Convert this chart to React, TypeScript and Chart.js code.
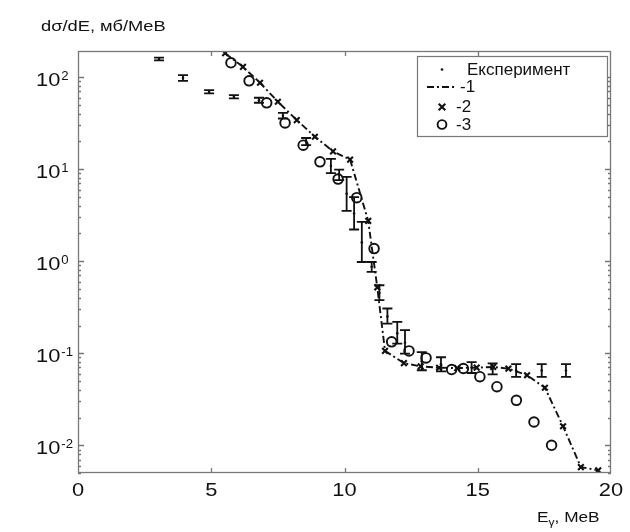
import React, { useEffect, useRef } from "react";
import { Chart, registerables } from "chart.js";

Chart.register(...registerables);

// ---- Data ----
// Experiment: energy (MeV), value, lower and upper error limits (mb/MeV)
const expE = [3.04, 3.94, 4.92, 5.85, 6.79, 7.69, 8.56, 9.49, 9.8, 10.08, 10.36, 10.65, 11.02, 11.31, 11.61, 11.98, 12.27, 12.9, 13.62, 14.77, 15.56, 16.44, 17.4, 18.31];
const expVal = [157, 98, 69, 61, 56, 38, 20, 10.8, 8.8, 5.4, 3.3, 1.6, 0.87, 0.45, 0.25, 0.165, 0.13, 0.082, 0.076, 0.07, 0.068, 0.065, 0.065, 0.065];
const expLo = [152, 91, 66.5, 58.7, 52.6, 35.5, 18.2, 9.06, 7.6, 3.52, 2.21, 0.98, 0.766, 0.377, 0.21, 0.127, 0.099, 0.0653, 0.0635, 0.061, 0.0589, 0.0555, 0.0555, 0.0555];
const expHi = [163, 105, 72.3, 63.8, 59.6, 40.9, 21.8, 12.9, 9.9, 8.24, 4.96, 2.67, 0.98, 0.548, 0.306, 0.219, 0.178, 0.103, 0.0905, 0.08, 0.0776, 0.0762, 0.0762, 0.0762];

// Calculation 1 (dash-dot line)
const line1E = [5.52, 6.19, 6.83, 7.5, 8.21, 8.89, 9.57, 10.21, 10.89, 11.23, 11.52, 12.23, 12.86, 13.55, 14.23, 14.96, 15.58, 16.15, 16.85, 17.52, 18.2, 18.87, 19.52];
const line1Val = [182, 129, 86.7, 54, 34.1, 22.5, 15.6, 12.7, 2.74, 0.52, 0.106, 0.078, 0.072, 0.0695, 0.069, 0.0697, 0.071, 0.068, 0.0577, 0.0422, 0.0161, 0.0058, 0.00535];

// Calculation 2 (crosses)
const calc2E = [5.52, 6.19, 6.83, 7.5, 8.21, 8.89, 9.57, 10.21, 10.89, 11.23, 11.52, 12.23, 12.86, 13.55, 14.23, 14.96, 15.58, 16.15, 16.85, 17.52, 18.2, 18.87, 19.52];
const calc2Val = [182, 129, 86.7, 54, 34.1, 22.5, 15.6, 12.7, 2.74, 0.52, 0.106, 0.078, 0.072, 0.0695, 0.069, 0.0697, 0.071, 0.068, 0.0577, 0.0422, 0.0161, 0.0058, 0.00535];

// Calculation 3 (open circles)
const calc3E = [5.74, 6.42, 7.08, 7.77, 8.45, 9.08, 9.76, 10.46, 11.11, 11.77, 12.42, 13.06, 14.02, 14.46, 15.08, 15.72, 16.45, 17.11, 17.77];
const calc3Val = [143, 91, 52.5, 31.8, 18.2, 12, 7.8, 4.9, 1.37, 0.133, 0.106, 0.089, 0.0665, 0.0683, 0.0556, 0.0433, 0.0308, 0.0179, 0.01];

// Axes
const xMin = 0;
const xMax = 20;
const xTickValues = [0, 5, 10, 15, 20];
const yMin = 0.005;
const yMax = 192;
const yTickValues = [0.01, 0.1, 1, 10, 100];
const yTickExponents = ["-2", "-1", "0", "1", "2"];

// Texts
const yTitle = "dσ/dE, мб/MeB";
const xTitleMain = "E";
const xTitleSub = "γ";
const xTitleRest = ", MeB";
const legendLabels = ["Експеримент", "-1", "-2", "-3"];

const FONT = '"Liberation Sans", Arial, Helvetica, sans-serif';
const INK = "#111111";
const FRAME = "#777777";
const DASH = [7, 3, 2, 3];

function sText(ctx: CanvasRenderingContext2D, txt: string, x: number, y: number, size: number, sx: number, align: "left" | "center" | "right" = "left") {
  ctx.save();
  ctx.font = `${size}px ${FONT}`;
  ctx.textBaseline = "alphabetic";
  ctx.textAlign = "left";
  const w = ctx.measureText(txt).width * sx;
  const x0 = align === "center" ? x - w / 2 : align === "right" ? x - w : x;
  ctx.translate(x0, y);
  ctx.scale(sx, 1);
  ctx.fillStyle = INK;
  ctx.fillText(txt, 0, 0);
  ctx.restore();
  return w;
}

function drawCross(ctx: CanvasRenderingContext2D, cx: number, cy: number, r: number) {
  ctx.beginPath();
  ctx.moveTo(cx - r, cy - r);
  ctx.lineTo(cx + r, cy + r);
  ctx.moveTo(cx - r, cy + r);
  ctx.lineTo(cx + r, cy - r);
  ctx.stroke();
}

const decor = {
  id: "decor",
  afterDatasetsDraw(chart: any) {
    const { ctx, scales } = chart;
    const x = scales.x;
    const y = scales.y;
    ctx.save();
    ctx.strokeStyle = INK;
    ctx.lineWidth = 1.8;
    expE.forEach((e, i) => {
      const px = x.getPixelForValue(e);
      const pl = y.getPixelForValue(expLo[i]);
      const ph = y.getPixelForValue(expHi[i]);
      ctx.beginPath();
      ctx.moveTo(px, pl);
      ctx.lineTo(px, ph);
      ctx.moveTo(px - 5, pl);
      ctx.lineTo(px + 5, pl);
      ctx.moveTo(px - 5, ph);
      ctx.lineTo(px + 5, ph);
      ctx.stroke();
    });
    ctx.restore();
  },
  afterDraw(chart: any) {
    const { ctx, chartArea: a, scales } = chart;
    const x = scales.x;
    const y = scales.y;
    ctx.save();
    // frame
    ctx.strokeStyle = FRAME;
    ctx.lineWidth = 1.3;
    ctx.strokeRect(a.left + 0.5, a.top + 0.5, a.right - a.left - 1, a.bottom - a.top - 1);
    // x ticks (inward, bottom & top)
    ctx.beginPath();
    xTickValues.forEach((v) => {
      if (v <= xMin || v >= xMax) return;
      const px = Math.round(x.getPixelForValue(v)) + 0.5;
      ctx.moveTo(px, a.bottom);
      ctx.lineTo(px, a.bottom - 5);
      ctx.moveTo(px, a.top);
      ctx.lineTo(px, a.top + 5);
    });
    // y ticks (log minor + major)
    for (let n = -3; n <= 2; n++) {
      for (let k = 1; k <= 9; k++) {
        const v = k * Math.pow(10, n);
        if (v < yMin || v > yMax) continue;
        const py = Math.round(y.getPixelForValue(v)) + 0.5;
        const len = k === 1 ? 6 : 3;
        ctx.moveTo(a.left, py);
        ctx.lineTo(a.left + len, py);
        ctx.moveTo(a.right, py);
        ctx.lineTo(a.right - len, py);
      }
    }
    ctx.stroke();
    ctx.restore();

    // y tick labels 10^n
    yTickValues.forEach((v, i) => {
      const py = y.getPixelForValue(v);
      const w = sText(ctx, "10", 36, py + 8.5, 19, 1.15);
      sText(ctx, yTickExponents[i], 36 + w + 1, py + 2.5, 12, 1.1);
    });
    // x tick labels
    xTickValues.forEach((v) => {
      sText(ctx, String(v), x.getPixelForValue(v), a.bottom + 23, 19, 1.15, "center");
    });
    // titles
    sText(ctx, yTitle, 41, 31, 15, 1.22);
    let tx = 537;
    tx += sText(ctx, xTitleMain, tx, 522, 15, 1.15);
    tx += sText(ctx, xTitleSub, tx, 526, 11, 1.1);
    sText(ctx, xTitleRest, tx, 522, 15, 1.15);

    // legend
    ctx.save();
    ctx.fillStyle = "#ffffff";
    ctx.fillRect(417, 56, 190, 81);
    ctx.strokeStyle = FRAME;
    ctx.lineWidth = 1.2;
    ctx.strokeRect(417.5, 56.5, 190, 80);
    ctx.fillStyle = INK;
    ctx.beginPath();
    ctx.arc(442, 69.5, 1.3, 0, Math.PI * 2);
    ctx.fill();
    ctx.strokeStyle = INK;
    ctx.lineWidth = 1.9;
    ctx.setLineDash(DASH);
    ctx.beginPath();
    ctx.moveTo(427, 87);
    ctx.lineTo(456, 87);
    ctx.stroke();
    ctx.setLineDash([]);
    ctx.lineWidth = 2.1;
    drawCross(ctx, 442, 107, 3.3);
    ctx.lineWidth = 1.9;
    ctx.beginPath();
    ctx.arc(442, 124.5, 4.4, 0, Math.PI * 2);
    ctx.stroke();
    ctx.restore();
    sText(ctx, legendLabels[0], 467, 74.5, 17, 1.0);
    sText(ctx, legendLabels[1], 460, 92, 17, 1.0);
    sText(ctx, legendLabels[2], 456, 112, 17, 1.0);
    sText(ctx, legendLabels[3], 456, 129.5, 17, 1.0);
  },
};

export default function App() {
  const canvasRef = useRef<HTMLCanvasElement | null>(null);

  useEffect(() => {
    document.body.style.margin = "0";
    document.body.style.background = "#ffffff";
    const canvas = canvasRef.current;
    if (!canvas) return;
    const chart = new Chart(canvas, {
      type: "scatter",
      data: {
        datasets: [
          {
            label: "-1",
            data: line1E.map((e, i) => ({ x: e, y: line1Val[i] })),
            showLine: true,
            borderColor: INK,
            borderWidth: 1.9,
            borderDash: DASH,
            pointRadius: 0,
            fill: false,
          },
          {
            label: "-2",
            data: calc2E.map((e, i) => ({ x: e, y: calc2Val[i] })),
            showLine: false,
            pointStyle: "crossRot",
            pointRadius: 4,
            borderColor: INK,
            borderWidth: 2.1,
          },
          {
            label: "-3",
            data: calc3E.map((e, i) => ({ x: e, y: calc3Val[i] })),
            showLine: false,
            pointStyle: "circle",
            pointRadius: 4.8,
            borderColor: INK,
            backgroundColor: "rgba(255,255,255,0)",
            borderWidth: 1.9,
          },
          {
            label: "Експеримент",
            data: expE.map((e, i) => ({ x: e, y: expVal[i] })),
            showLine: false,
            pointStyle: "circle",
            pointRadius: 1.3,
            borderWidth: 0,
            backgroundColor: INK,
          },
        ],
      },
      options: {
        responsive: false,
        animation: false,
        devicePixelRatio: 1,
        layout: { padding: { top: 51, right: 19, left: 0, bottom: 0 } },
        plugins: { legend: { display: false }, tooltip: { enabled: false } },
        scales: {
          x: {
            type: "linear",
            min: xMin,
            max: xMax,
            ticks: { display: false },
            grid: { display: false },
            border: { display: false },
            afterFit: (s: any) => {
              s.height = 59;
            },
          },
          y: {
            type: "logarithmic",
            min: yMin,
            max: yMax,
            ticks: { display: false },
            grid: { display: false },
            border: { display: false },
            afterFit: (s: any) => {
              s.width = 78;
            },
          },
        },
      } as any,
      plugins: [decor],
    });
    return () => chart.destroy();
  }, []);

  return (
    <div style={{ width: 630, height: 532, background: "#fff" }}>
      <canvas ref={canvasRef} width={630} height={532} style={{ display: "block" }} />
    </div>
  );
}
